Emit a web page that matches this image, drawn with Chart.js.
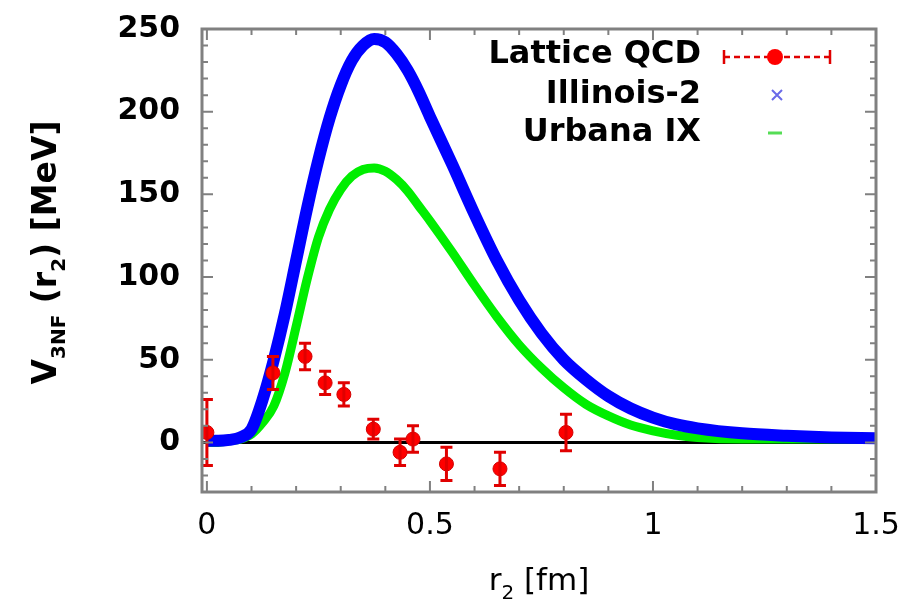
<!DOCTYPE html>
<html>
<head>
<meta charset="utf-8">
<script src="https://cdn.jsdelivr.net/npm/chart.js@4"></script>
<style>
  html, body { margin: 0; padding: 0; background: #fff; }
  #wrap { width: 921px; height: 607px; }
</style>
</head>
<body>
<div id="wrap"><canvas id="chart" width="921" height="607"></canvas></div>
<script>
// curves (r2 in fm, V in MeV)
var rCurve   = [0, 0.025, 0.05, 0.075, 0.1, 0.125, 0.15, 0.175, 0.2, 0.225, 0.25, 0.275, 0.3, 0.325, 0.35, 0.375, 0.4, 0.425, 0.45, 0.475, 0.5, 0.55, 0.6, 0.65, 0.7, 0.75, 0.8, 0.85, 0.9, 0.95, 1.0, 1.05, 1.1, 1.2, 1.3, 1.4, 1.5];
var illinois = [1, 1, 1.5, 3, 8, 26, 50, 78, 110, 142, 171, 196, 216, 231, 240, 244, 242, 235, 225, 212, 197, 168, 138, 110, 86, 66, 50, 38, 28, 20.5, 15, 11, 8.5, 5.5, 4, 3, 2.5];
var urbana   = [0, 0, 1, 2, 5, 12, 22, 42, 70, 99, 124, 141, 153, 161, 165, 166, 164, 159, 152, 143, 134, 115, 95, 76, 59, 45, 33, 23, 16, 10.5, 7, 4.5, 3, 2, 2, 2, 2];

// lattice QCD points with errors
var latR   = [0, 0.148, 0.22, 0.265, 0.307, 0.373, 0.433, 0.462, 0.537, 0.657, 0.805];
var latV   = [6, 42, 52, 36, 29, 8, -6, 2, -13, -16, 6];
var latErr = [20, 10, 8, 7, 7, 6, 8, 8, 10, 10, 11];

// tick labels
var xTicks = [0, 0.5, 1, 1.5];
var yTicks = [0, 50, 100, 150, 200, 250];

var labels = ["Lattice QCD", "Illinois-2", "Urbana IX"];

function pts(xs, ys) {
  return xs.map(function(x, i) { return {x: x, y: ys[i]}; });
}

// draw text made of pieces, some of them as subscripts
function drawParts(ctx, parts, weight) {
  var total = 0;
  parts.forEach(function(p) { ctx.font = weight + ' ' + p[1] + 'px "DejaVu Sans"'; total += ctx.measureText(p[0]).width; });
  var cx = -total / 2;
  parts.forEach(function(p) {
    ctx.font = weight + ' ' + p[1] + 'px "DejaVu Sans"';
    ctx.fillText(p[0], cx, p[2]);
    cx += ctx.measureText(p[0]).width;
  });
}

var decor = {
  id: 'decor',
  beforeDatasetsDraw: function(chart) {
    var ctx = chart.ctx, a = chart.chartArea, y = chart.scales.y;
    // zero line
    ctx.save();
    ctx.strokeStyle = '#000';
    ctx.lineWidth = 3;
    ctx.beginPath();
    ctx.moveTo(a.left, y.getPixelForValue(0));
    ctx.lineTo(a.right, y.getPixelForValue(0));
    ctx.stroke();
    ctx.restore();
  },
  afterDatasetsDraw: function(chart) {
    var ctx = chart.ctx, a = chart.chartArea, xs = chart.scales.x, ys = chart.scales.y;
    ctx.save();
    // error bars
    ctx.strokeStyle = '#e00000';
    ctx.lineWidth = 3;
    for (var i = 0; i < latR.length; i++) {
      var px = xs.getPixelForValue(latR[i]);
      var top = ys.getPixelForValue(latV[i] + latErr[i]);
      var bot = ys.getPixelForValue(latV[i] - latErr[i]);
      ctx.beginPath();
      ctx.moveTo(px, top); ctx.lineTo(px, bot);
      ctx.moveTo(px - 6, top); ctx.lineTo(px + 6, top);
      ctx.moveTo(px - 6, bot); ctx.lineTo(px + 6, bot);
      ctx.stroke();
    }

    // border + inward ticks
    ctx.strokeStyle = '#808080';
    ctx.lineWidth = 3;
    ctx.strokeRect(a.left, a.top, a.right - a.left, a.bottom - a.top);
    ctx.lineWidth = 2;
    ctx.beginPath();
    for (var k = 0; k <= 15; k++) {
      var p = xs.getPixelForValue(k / 10);
      var len = (k % 5 === 0) ? 11 : 6;
      ctx.moveTo(p, a.bottom); ctx.lineTo(p, a.bottom - len);
      ctx.moveTo(p, a.top); ctx.lineTo(p, a.top + len);
    }
    for (var m = -20; m <= 250; m += 10) {
      var q = ys.getPixelForValue(m);
      var l2 = (m % 50 === 0) ? 11 : 6;
      ctx.moveTo(a.left, q); ctx.lineTo(a.left + l2, q);
      ctx.moveTo(a.right, q); ctx.lineTo(a.right - l2, q);
    }
    ctx.stroke();

    // legend
    ctx.fillStyle = '#000';
    ctx.font = 'bold 32px "DejaVu Sans"';
    ctx.textAlign = 'right';
    ctx.textBaseline = 'middle';
    ctx.fillText(labels[0], 701, 55);
    ctx.fillText(labels[1], 701, 95);
    ctx.fillText(labels[2], 701, 133);

    ctx.strokeStyle = '#e00000';
    ctx.lineWidth = 2.5;
    ctx.setLineDash([6, 4]);
    ctx.beginPath(); ctx.moveTo(724, 57); ctx.lineTo(830, 57); ctx.stroke();
    ctx.setLineDash([]);
    ctx.beginPath();
    ctx.moveTo(724, 50); ctx.lineTo(724, 64);
    ctx.moveTo(830, 50); ctx.lineTo(830, 64);
    ctx.stroke();
    ctx.fillStyle = '#ff0000';
    ctx.beginPath(); ctx.arc(775, 57, 8, 0, Math.PI * 2); ctx.fill();

    ctx.strokeStyle = '#6a6ae8';
    ctx.lineWidth = 2;
    ctx.beginPath();
    ctx.moveTo(772, 90); ctx.lineTo(782, 100);
    ctx.moveTo(782, 90); ctx.lineTo(772, 100);
    ctx.stroke();

    ctx.strokeStyle = '#55dd55';
    ctx.lineWidth = 3;
    ctx.beginPath(); ctx.moveTo(768, 133); ctx.lineTo(782, 133); ctx.stroke();

    ctx.textAlign = 'left';
    ctx.textBaseline = 'alphabetic';
    ctx.fillStyle = '#000';

    // x axis title: r_2 [fm]
    ctx.save();
    ctx.translate((a.left + a.right) / 2, 590);
    drawParts(ctx, [["r", 31, 0], ["2", 20, 9], [" [fm]", 31, 0]], 'normal');
    ctx.restore();

    // y axis title: V_3NF (r_2) [MeV]
    ctx.translate(56, (a.top + a.bottom) / 2 - 8);
    ctx.rotate(-Math.PI / 2);
    drawParts(ctx, [["V", 33, 0], ["3NF", 20, 9], [" (r", 33, 0], ["2", 20, 9], [") [MeV]", 33, 0]], 'bold');
    ctx.restore();
  }
};

new Chart(document.getElementById('chart'), {
  type: 'scatter',
  data: {
    datasets: [{
      label: labels[0],
      data: pts(latR, latV),
      backgroundColor: '#ff0000',
      borderColor: '#d00000',
      pointRadius: 7,
      pointBorderWidth: 1,
      showLine: false
    }, {
      label: labels[1],
      data: pts(rCurve, illinois),
      borderColor: '#0000ff',
      borderWidth: 12,
      pointRadius: 0,
      showLine: true,
      cubicInterpolationMode: 'monotone'
    }, {
      label: labels[2],
      data: pts(rCurve, urbana),
      borderColor: '#00ee00',
      borderWidth: 9,
      pointRadius: 0,
      showLine: true,
      cubicInterpolationMode: 'monotone'
    }]
  },
  options: {
    responsive: false,
    animation: false,
    layout: { padding: { top: 29, right: 45, left: 0, bottom: 0 } },
    plugins: { legend: { display: false }, tooltip: { enabled: false } },
    scales: {
      x: {
        type: 'linear',
        min: -0.011, max: 1.5,
        afterBuildTicks: function(ax) { ax.ticks = xTicks.map(function(v) { return {value: v}; }); },
        afterFit: function(ax) { ax.height = 115; ax.paddingLeft = 0; ax.paddingRight = 0; },
        grid: { display: false, drawTicks: false },
        border: { display: false },
        ticks: {
          color: '#000', padding: 16,
          font: { family: 'DejaVu Sans', size: 30 },
          callback: function(v) { return String(v); }
        }
      },
      y: {
        type: 'linear',
        min: -30, max: 250,
        afterBuildTicks: function(ax) { ax.ticks = yTicks.map(function(v) { return {value: v}; }); },
        afterFit: function(ax) { ax.width = 202; ax.paddingTop = 0; ax.paddingBottom = 0; },
        grid: { display: false, drawTicks: false },
        border: { display: false },
        ticks: { color: '#000', padding: 22, font: { family: 'DejaVu Sans', size: 30, weight: 'bold' } }
      }
    }
  },
  plugins: [decor]
});
</script>
</body>
</html>
